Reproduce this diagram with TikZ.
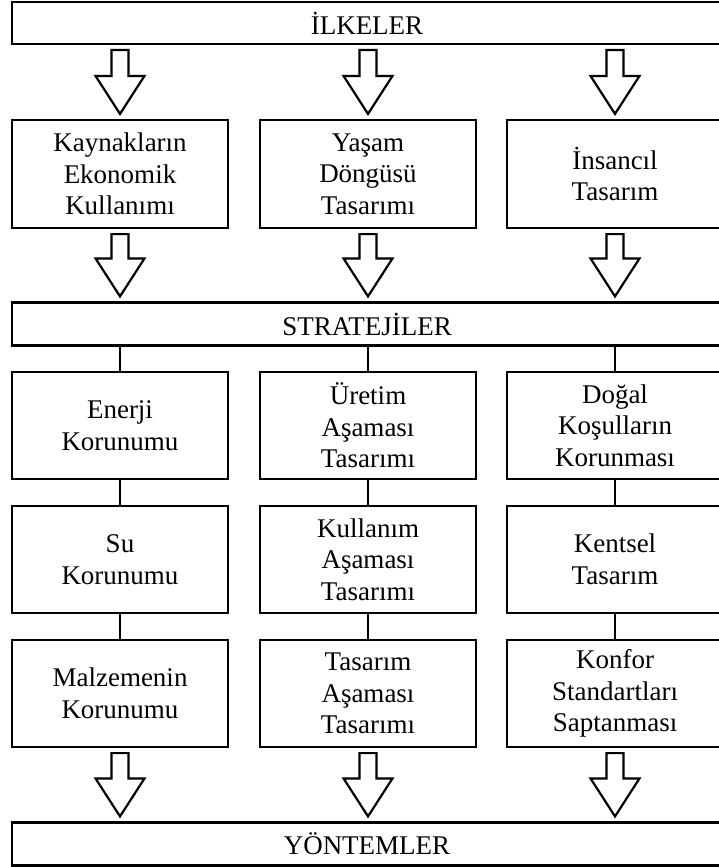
\documentclass[tikz,border=0pt]{standalone}
\usepackage{fontspec}
\setmainfont{Liberation Serif}
\usetikzlibrary{calc}
\begin{document}
\begin{tikzpicture}[x=1pt,y=-1pt,
  every node/.style={font=\fontsize{27}{31.5}\selectfont},
  frame/.style={draw, line width=2.2pt, fill=white, inner sep=0pt, align=center},
  stepbox/.style={frame, minimum width=216pt, minimum height=107pt},
  bar/.style={frame, minimum width=710pt, minimum height=43pt},
  link/.style={line width=2.2pt},
  hollowarrow/.style={draw, line width=2.2pt, fill=white, line join=miter}]
\useasboundingbox (0,0) rectangle (719,867);
\clip (0,0) rectangle (719,867);
\fill[white] (0,0) rectangle (719,867);

% block arrow from a start point down to a tip point
\newcommand\blockarrow[2]{%
  \path[hollowarrow] let \p1=#1, \p2=#2 in
    (\x1-8.5pt,\y1-5pt) -- (\x1+8.5pt,\y1-5pt) -- (\x1+8.5pt,\y2+43pt)
    -- (\x1+24.5pt,\y2+43pt) -- (\x1,\y2+5pt) -- (\x1-24.5pt,\y2+43pt)
    -- (\x1-8.5pt,\y2+43pt) -- cycle;}

% headline bars
\node[bar, minimum height=42pt] (ilk) at (367,23) {İLKELER};
\node[bar] (str) at (367,324) {STRATEJİLER};
\node[bar] (yon) at (367,844) {YÖNTEMLER};

% principles
\node[stepbox, minimum height=108pt] (p1) at (120,174) {Kaynakların\\Ekonomik\\Kullanımı};
\node[stepbox, minimum height=108pt] (p2) at (368,174) {Yaşam\\Döngüsü\\Tasarımı};
\node[stepbox, minimum height=108pt] (p3) at (615,174) {İnsancıl\\Tasarım};

% strategies, first column
\node[stepbox] (a1) at (120,425.5) {Enerji\\Korunumu};
\node[stepbox] (a2) at (120,559.5) {Su\\Korunumu};
\node[stepbox] (a3) at (120,693.5) {Malzemenin\\Korunumu};
% second column
\node[stepbox] (b1) at (368,425.5) {Üretim\\Aşaması\\Tasarımı};
\node[stepbox] (b2) at (368,559.5) {Kullanım\\Aşaması\\Tasarımı};
\node[stepbox] (b3) at (368,693.5) {Tasarım\\Aşaması\\Tasarımı};
% third column
\node[stepbox] (c1) at (615,425.5) {Doğal\\Koşulların\\Korunması};
\node[stepbox] (c2) at (615,559.5) {Kentsel\\Tasarım};
\node[stepbox] (c3) at (615,693.5) {Konfor\\Standartları\\Saptanması};

% plain connectors
\foreach \c in {a,b,c}{
  \draw[link] (str.south -| \c1) -- (\c1.north);
  \draw[link] (\c1.south) -- (\c2.north);
  \draw[link] (\c2.south) -- (\c3.north);
}

% hollow arrows
\blockarrow{(ilk.south -| p1)}{(p1.north)}
\blockarrow{(ilk.south -| p2)}{(p2.north)}
\blockarrow{(ilk.south -| p3)}{(p3.north)}
\blockarrow{(p1.south)}{(str.north -| p1)}
\blockarrow{(p2.south)}{(str.north -| p2)}
\blockarrow{(p3.south)}{(str.north -| p3)}
\blockarrow{(a3.south)}{(yon.north -| a3)}
\blockarrow{(b3.south)}{(yon.north -| b3)}
\blockarrow{(c3.south)}{(yon.north -| c3)}
\end{tikzpicture}
\end{document}
